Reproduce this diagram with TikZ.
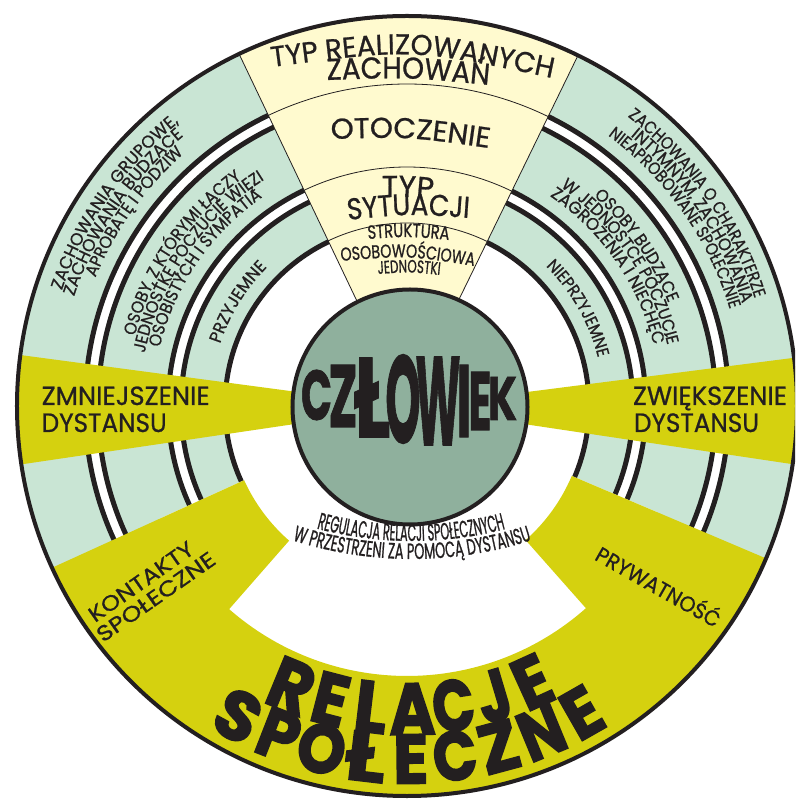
\documentclass[tikz,border=0pt]{standalone}
\usepackage{fontspec}
\setmainfont{Poppins}
\newfontfamily\fText[FakeBold=0.8]{Poppins}
\newfontfamily\fMeasure{Poppins}
\newfontfamily\fHeavy[FakeBold=2.5]{Poppins}
\newfontfamily\fHeavyC[FakeBold=1.3]{Poppins}
\usetikzlibrary{decorations.text,calc}
\definecolor{tealband}{HTML}{C9E5D4}
\definecolor{cream}{HTML}{FFFACF}
\definecolor{olive}{HTML}{D5D10F}
\definecolor{sage}{HTML}{8FB09D}
\definecolor{ink}{HTML}{231F20}
\newcommand\capfit[3]{\resizebox{#1}{#2}{\fText\raisebox{0pt}[\fontcharht\font`H]{#3}}}
% prepare a font (size from cap height, stretch from target length) -- used outside the picture
\newcommand\prepfit[4]{%
  \begingroup
  \fMeasure\fontsize{12.5}{12.5}\selectfont
  \dimen2=\fontcharht\font`H\relax
  \pgfmathsetmacro\tmpcap{12.5*#2/\the\dimen2}%
  \fontsize{\tmpcap}{\tmpcap}\selectfont
  \settowidth{\dimen0}{#4}%
  \pgfmathsetmacro\tmpst{#3/\the\dimen0}%
  \expandafter\xdef\csname cs@#1\endcsname{\tmpcap}%
  \expandafter\xdef\csname st@#1\endcsname{\tmpst}%
  \endgroup
  \edef\tmpdo{\noexpand\newfontfamily\expandafter\noexpand\csname ff@#1\endcsname[FakeStretch=\csname st@#1\endcsname,FakeBold=0.8]{Poppins}}%
  \tmpdo}
\newcommand\preparc[6]{\pgfmathsetmacro\tlen{abs(#6-#5)*pi/180*#4}\prepfit{#1}{#2}{\tlen}{#3}}
\newcommand\usefit[1]{\color{ink}\csname ff@#1\endcsname\fontsize{\csname cs@#1\endcsname}{\csname cs@#1\endcsname}\selectfont}
\newcommand\drawarc[6]{\path[decorate,decoration={text along path,text align=fit to path,text={|\usefit{#1}|#3}}] ($#2+(#5:#4pt)$) arc[start angle=#5,end angle=#6,radius=#4pt];}
\newcommand\drawcurve[5]{\path[decorate,decoration={text along path,text align=fit to path,text={|\usefit{#1}|#2}}] #3 .. controls #4 .. #5;}
\tikzset{
  ringline/.style={ink,line width=5pt},
  gapline/.style={white,line width=8pt},
  thinline/.style={ink,line width=0.8pt},
  plain/.style={inner sep=0pt,outer sep=0pt,text=ink},
}
\begin{document}
\preparc{a1}{12}{ZACHOWANIA GRUPOWE,}{364}{161.5}{128.8}%
\preparc{a2}{12}{ZACHOWANIA BUDZĄCE}{350.5}{161.8}{129.6}%
\preparc{a3}{12}{APROBATĘ I PODZIW}{337}{157.6}{131.5}%
\preparc{a4}{12}{OSOBY, Z KTÓRYMI ŁĄCZY}{281}{165.6}{126}%
\preparc{a5}{12}{JEDNOSTKĘ POCZUCIE WIĘZI}{267.5}{168.6}{122.2}%
\preparc{a6}{12}{OSOBISTYCH I SYMPATIA}{254}{166.7}{124.7}%
\preparc{a7}{12}{PRZYJEMNE}{197}{161.6}{135.2}%
\preparc{a8}{12}{ZACHOWANIA O CHARAKTERZE}{364}{52.7}{17.2}%
\preparc{a9}{12}{INTYMNYM, ZACHOWANIA}{350.5}{50.4}{17}%
\preparc{a10}{12}{NIEAPROBOWANE SPOŁECZNIE}{337}{53.4}{16.7}%
\preparc{a11}{12}{OSOBY BUDZĄCE}{281}{48.4}{21.5}%
\preparc{a12}{12}{W JEDNOSTCE POCZUCIE}{267.5}{55}{13.2}%
\preparc{a13}{12}{ZAGROŻENIA I NIECHĘĆ}{254}{55.8}{13.9}%
\preparc{a14}{12}{NIEPRZYJEMNE}{197}{45.2}{14.2}%
\preparc{r1}{16.5}{REGULACJA RELACJI SPOŁECZNYCH}{373}{255.2}{284.5}%
\preparc{r2}{15.5}{W PRZESTRZENI ZA POMOCĄ DYSTANSU}{391}{252.2}{287.8}%
\prepfit{c1}{20}{283}{TYP REALIZOWANYCH}%
\prepfit{c2}{21}{162}{ZACHOWAŃ}%
\prepfit{c3}{20}{158.4}{OTOCZENIE}%
\prepfit{c4}{21}{51}{TYP}%
\prepfit{c5}{21}{121.4}{SYTUACJI}%
\prepfit{c6}{13.3}{81}{STRUKTURA}%
\prepfit{c7}{13}{133.8}{OSOBOWOŚCIOWA}%
\prepfit{c8}{12.5}{62}{JEDNOSTKI}%
\begin{tikzpicture}[x=1pt,y=1pt]
\useasboundingbox (-407,-393) rectangle (388,406);
\clip (-407,-393) rectangle (388,406);
% rings
\fill[tealband] (0,0) circle[radius=390pt];
\draw[gapline] (0,0) circle[radius=315.5pt];
\draw[gapline] (0,0) circle[radius=232.5pt];
\fill[white] (0,0) circle[radius=180pt];
\foreach \r in {322,309,239,226,182} \draw[ringline] (0,0) circle[radius=\r pt];
\fill[white] (0,0) -- (204.5:272pt) arc[start angle=204.5,end angle=337,radius=272pt] -- cycle;
% cream wedge
\fill[cream] (0,0) -- (115.5:390pt) arc[start angle=115.5,end angle=64,radius=390pt] -- cycle;
\draw[thinline] (115.5:390pt) -- (0,0) -- (64:390pt);
\foreach \r in {322,239,183} \draw[thinline] (115.5:\r pt) arc[start angle=115.5,end angle=64,radius=\r pt];
% side wedges
\begin{scope}
\clip (0,0) circle[radius=390pt];
\fill[olive] (3,-1) -- ($(3,-1)+(172.4:500pt)$) -- ($(3,-1)+(188.4:500pt)$) -- cycle;
\fill[olive] (3,-1) -- ($(3,-1)+(-8.5:500pt)$) -- ($(3,-1)+(7.3:500pt)$) -- cycle;
\end{scope}
% bottom region
\fill[olive] (204.5:391pt) arc[start angle=204.5,end angle=337,radius=391pt] -- (337:179pt) arc[start angle=337,end angle=311.5,radius=179pt] -- (311.5:270pt) arc[start angle=311.5,end angle=228.8,radius=270pt] -- (228.8:179pt) arc[start angle=228.8,end angle=204.5,radius=179pt] -- cycle;
\draw[ink,line width=4pt] (0,0) circle[radius=390pt];
\filldraw[fill=sage,draw=ink,line width=4pt] (3,-1) circle[radius=117.5pt];
% CZLOWIEK
\foreach \ch/\x/\y/\w/\h [count=\i] in {C/-90.5/11/31/50, Z/-64/10/29/62, Ł/-35/8.5/36/79, O/-4/7/35/88, W/31/5/45/88, I/57/5/15/72, E/73/5/23/58, K/95.5/7.5/29/43}
  \node[plain] (cz\i) at (\x,\y) {\resizebox{\w pt}{\h pt}{\fHeavyC\bfseries\ch}};
% RELACJE SPOLECZNE
\foreach \ch/\a/\w [count=\i] in {R/247.6/43, E/255.4/35, L/263.2/33, A/271/46, C/278.8/42, J/286.6/33, E/294.4/35}
  \node[plain,rotate=\a+90] (rel\i) at (\a:303pt) {\resizebox{\w pt}{51pt}{\fHeavy\bfseries\ch}};
\foreach \ch/\a/\w [count=\i] in {S/241.4/42, P/248.7/40, O/256.0/48, Ł/263.3/40, E/270.6/35, C/277.8/44, Z/285.1/40, N/292.4/44, E/299.7/35}
  \node[plain,rotate=\a+90] (spo\i) at (\a:353pt) {\resizebox{\w pt}{49pt}{\fHeavy\bfseries\ch}};
% straight labels
\node[plain,anchor=base west] (zm1) at (-365.3,1) {\capfit{168pt}{18.3pt}{ZMNIEJSZENIE}};
\node[plain,anchor=base west] (zm2) at (-365.3,-26) {\capfit{125pt}{18.5pt}{DYSTANSU}};
\node[plain,anchor=base west] (zw1) at (226,1) {\capfit{154pt}{18.3pt}{ZWIĘKSZENIE}};
\node[plain,anchor=base west] (zw2) at (227,-26) {\capfit{125pt}{18.5pt}{DYSTANSU}};
\node[plain,anchor=base west,rotate=35] (ko1) at (-312,-217) {\capfit{123pt}{15pt}{KONTAKTY}};
\node[plain,anchor=base west,rotate=35] (ko2) at (-304,-237) {\capfit{139.5pt}{15pt}{SPOŁECZNE}};
\node[plain,anchor=base west,rotate=-29.6] (pr) at (186.7,-153.3) {\capfit{139.6pt}{15pt}{PRYWATNOŚĆ}};
% band texts
\drawarc{a1}{(0,0)}{ZACHOWANIA GRUPOWE,}{364}{161.5}{128.8}
\drawarc{a2}{(0,0)}{ZACHOWANIA BUDZĄCE}{350.5}{161.8}{129.6}
\drawarc{a3}{(0,0)}{APROBATĘ I PODZIW}{337}{157.6}{131.5}
\drawarc{a4}{(0,0)}{OSOBY, Z KTÓRYMI ŁĄCZY}{281}{165.6}{126}
\drawarc{a5}{(0,0)}{JEDNOSTKĘ POCZUCIE WIĘZI}{267.5}{168.6}{122.2}
\drawarc{a6}{(0,0)}{OSOBISTYCH I SYMPATIA}{254}{166.7}{124.7}
\drawarc{a7}{(0,0)}{PRZYJEMNE}{197}{161.6}{135.2}
\drawarc{a8}{(0,0)}{ZACHOWANIA O CHARAKTERZE}{364}{52.7}{17.2}
\drawarc{a9}{(0,0)}{INTYMNYM, ZACHOWANIA}{350.5}{50.4}{17}
\drawarc{a10}{(0,0)}{NIEAPROBOWANE SPOŁECZNIE}{337}{53.4}{16.7}
\drawarc{a11}{(0,0)}{OSOBY BUDZĄCE}{281}{48.4}{21.5}
\drawarc{a12}{(0,0)}{W JEDNOSTCE POCZUCIE}{267.5}{55}{13.2}
\drawarc{a13}{(0,0)}{ZAGROŻENIA I NIECHĘĆ}{254}{55.8}{13.9}
\drawarc{a14}{(0,0)}{NIEPRZYJEMNE}{197}{45.2}{14.2}
% caption under the circle
\drawarc{r1}{(5,238)}{REGULACJA RELACJI SPOŁECZNYCH}{373}{255.2}{284.5}
\drawarc{r2}{(5,238)}{W PRZESTRZENI ZA POMOCĄ DYSTANSU}{391}{252.2}{287.8}
% cream texts
\drawcurve{c1}{TYP REALIZOWANYCH}{(-135,339)}{(5,357.5)}{(145,328)}
\drawcurve{c2}{ZACHOWAŃ}{(-80,326)}{(1,328.8)}{(82,321)}
\drawcurve{c3}{OTOCZENIE}{(-76,267)}{(3,269.2)}{(82,258)}
\drawcurve{c4}{TYP}{(-25,209)}{(0.5,209.3)}{(26,207)}
\drawcurve{c5}{SYTUACJI}{(-59,186)}{(1.5,192.3)}{(62,188)}
\drawcurve{c6}{STRUKTURA}{(-39,167)}{(1.5,169.8)}{(42,166)}
\drawcurve{c7}{OSOBOWOŚCIOWA}{(-66,145)}{(0.5,150.5)}{(67,140)}
\drawcurve{c8}{JEDNOSTKI}{(-29,132)}{(2,134.2)}{(33,131)}
\end{tikzpicture}
\end{document}
